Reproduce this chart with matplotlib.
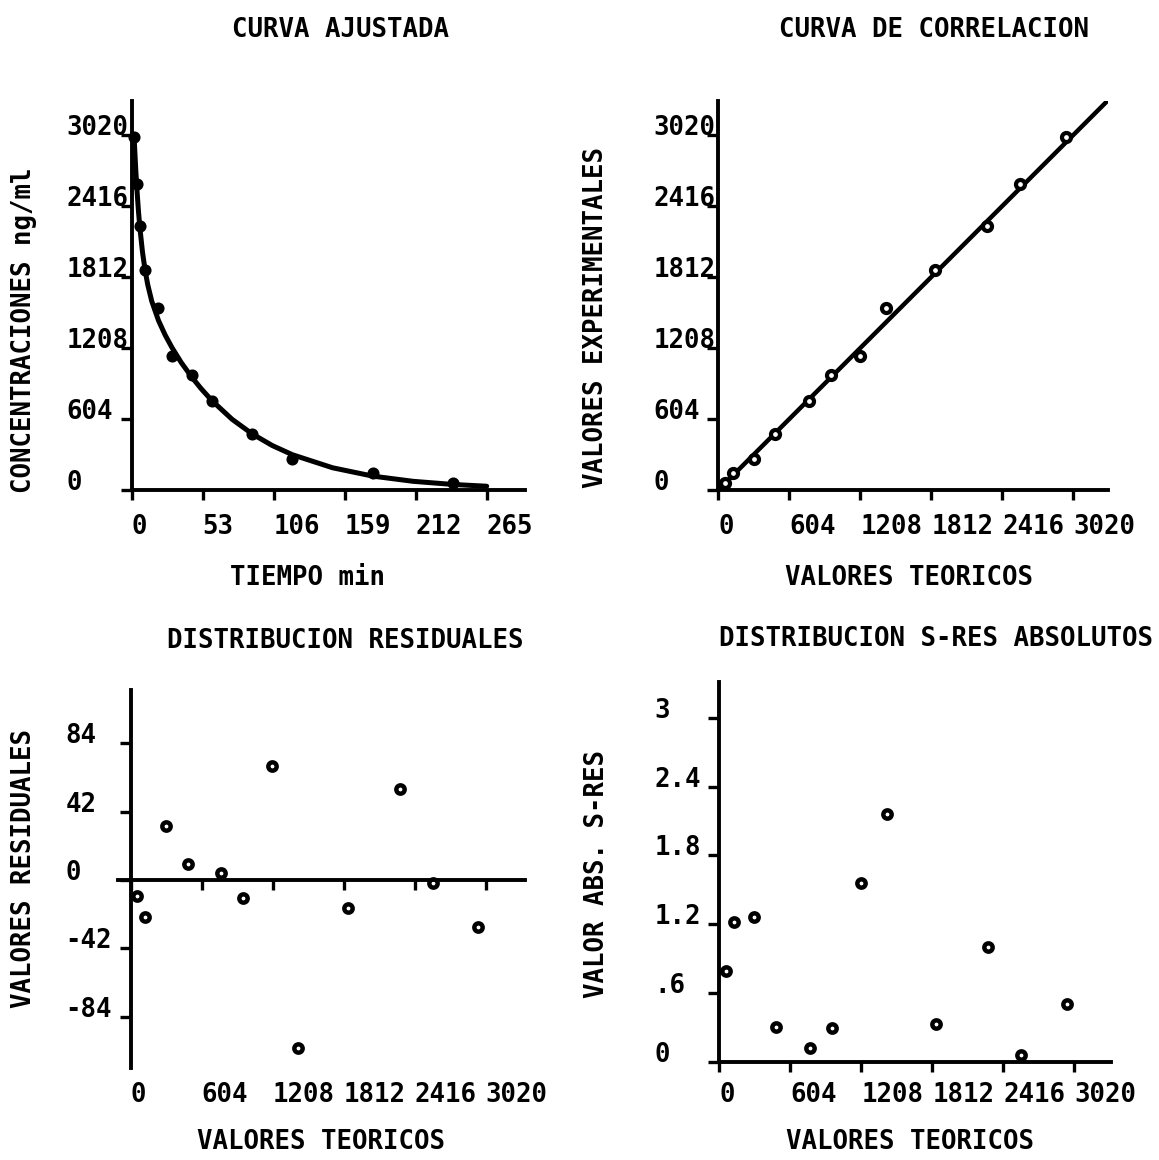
import matplotlib
matplotlib.use("Agg")
import matplotlib.pyplot as plt

# ======================================
# DATOS
# ======================================
tiempo = [2, 4, 6, 10, 20, 30, 45, 60, 90, 120, 180, 240]
conc_exp = [3000, 2600, 2250, 1875, 1545, 1140, 975, 758, 480, 265, 148, 62]
conc_teo = [2955, 2569, 2290, 1845, 1424, 1206, 957, 770, 486, 300, 124, 55]
residuales = [-29, -2, 56, -17, -103, 70, -11, 4, 10, 33, -23, -10]
sres_abs = [0.50, 0.06, 1.00, 0.33, 2.16, 1.56, 0.29, 0.12, 0.30, 1.26, 1.22, 0.79]

# curva ajustada (leida sobre la linea)
curva_t = [2, 3, 4, 5, 6, 8, 10, 12, 15, 20, 25, 30, 37, 45, 52, 60, 75, 90,
           105, 120, 150, 180, 210, 240, 265]
curva_c = [2955, 2729, 2541, 2379, 2243, 2029, 1869, 1745, 1605, 1442, 1318,
           1213, 1084, 958, 860, 759, 601, 477, 378, 300, 189, 118, 74, 47, 32]

ticks_t = [0, 53, 106, 159, 212, 265]
ticks_c = [0, 604, 1208, 1812, 2416, 3020]
ticks_res = [-84, -42, 0, 42, 84]
ticks_sres = [0, 0.6, 1.2, 1.8, 2.4, 3]
labels_sres = ["0", ".6", "1.2", "1.8", "2.4", "3"]

# ======================================
# FIGURA
# ======================================
W, H = 1159, 1160
fig = plt.figure(figsize=(W / 100, H / 100), dpi=100)

FUENTE = dict(family="DejaVu Sans Mono", weight="bold", size=18.5)
LW = 2.8


def caja(left, top, right, bottom):
    return fig.add_axes([left / W, 1 - bottom / H, (right - left) / W, (bottom - top) / H])


def texto(x, y, s, **kw):
    fig.text(x / W, 1 - y / H, s, ha="center", va="center", **FUENTE, **kw)


def estilo(ax):
    ax.spines["top"].set_visible(False)
    ax.spines["right"].set_visible(False)
    ax.spines["left"].set_linewidth(LW)
    ax.spines["bottom"].set_linewidth(LW)
    ax.tick_params(axis="y", direction="out", length=8, width=2.4, pad=38.8)
    ax.tick_params(axis="x", direction="out", length=7.5, width=2.4, pad=10)


def yticks(ax, ticks, labels=None):
    if labels is None:
        labels = [str(t) for t in ticks]
    ax.set_yticks(ticks, labels, ha="left", va="baseline", **FUENTE)


def xticks(ax, ticks, labels=None):
    if labels is None:
        labels = [str(t) for t in ticks]
    ax.set_xticks(ticks, labels, ha="left", va="top", **FUENTE)


# ======================================
# CURVA AJUSTADA
# ======================================
ax1 = caja(131.7, 100.7, 525, 490)
estilo(ax1)
ax1.set_xlim(0, 293.6)
ax1.set_ylim(0, 3312)
ax1.plot(curva_t, curva_c, color="black", lw=3.6, solid_capstyle="round", clip_on=False)
ax1.plot(tiempo, conc_exp, "o", ms=7.5, mfc="black", mec="black", mew=1.2, clip_on=False)
xticks(ax1, ticks_t)
yticks(ax1, ticks_c)
texto(340, 30, "CURVA AJUSTADA")
texto(307, 578, "TIEMPO min")
texto(24, 330, "CONCENTRACIONES ng/ml", rotation=90)

# ======================================
# CURVA DE CORRELACION
# ======================================
ax2 = caja(718.3, 100.7, 1108.3, 490)
estilo(ax2)
ax2.set_xlim(0, 3318)
ax2.set_ylim(0, 3312)
ax2.axline((0, 0), slope=1, color="black", lw=3.2)
ax2.plot(conc_teo, conc_exp, "o", ms=6.5, mfc="white", mec="black", mew=3.0, clip_on=False)
xticks(ax2, ticks_c)
yticks(ax2, ticks_c)
texto(934, 30, "CURVA DE CORRELACION")
texto(909, 578, "VALORES TEORICOS")
texto(596, 318, "VALORES EXPERIMENTALES", rotation=90)

# ======================================
# DISTRIBUCION RESIDUALES
# ======================================
ax3 = caja(118.2, 690, 525.1, 1068)
estilo(ax3)
ax3.set_xlim(-106, 3355)
ax3.set_ylim(-115.6, 116.8)
ax3.spines["left"].set_position(("data", 0))
ax3.spines["bottom"].set_position(("data", 0))
ax3.set_xticks(ticks_c)
ax3.tick_params(axis="x", labelbottom=False)
yticks(ax3, ticks_res)
sec = ax3.secondary_xaxis("bottom")
sec.spines["bottom"].set_visible(False)
sec.tick_params(axis="x", length=0, pad=10)
sec.set_xticks(ticks_c, [str(t) for t in ticks_c], ha="left", va="top", **FUENTE)
ax3.plot(conc_teo, residuales, "o", ms=6, mfc="white", mec="black", mew=3.2, clip_on=False)
texto(345, 641, "DISTRIBUCION RESIDUALES")
texto(321, 1142, "VALORES TEORICOS")
texto(24, 869, "VALORES RESIDUALES", rotation=90)

# ======================================
# DISTRIBUCION S-RES ABSOLUTOS
# ======================================
ax4 = caja(719.2, 681.7, 1110.8, 1061.7)
estilo(ax4)
ax4.set_xlim(0, 3331)
ax4.set_ylim(0, 3.314)
ax4.tick_params(axis="x", pad=7)
ax4.plot(conc_teo, sres_abs, "o", ms=6, mfc="white", mec="black", mew=3.2, clip_on=False)
xticks(ax4, ticks_c)
yticks(ax4, ticks_sres, labels_sres)
texto(936, 639, "DISTRIBUCION S-RES ABSOLUTOS")
texto(910, 1142, "VALORES TEORICOS")
texto(597, 874, "VALOR ABS. S-RES", rotation=90)

fig.savefig("out.png", dpi=100)
